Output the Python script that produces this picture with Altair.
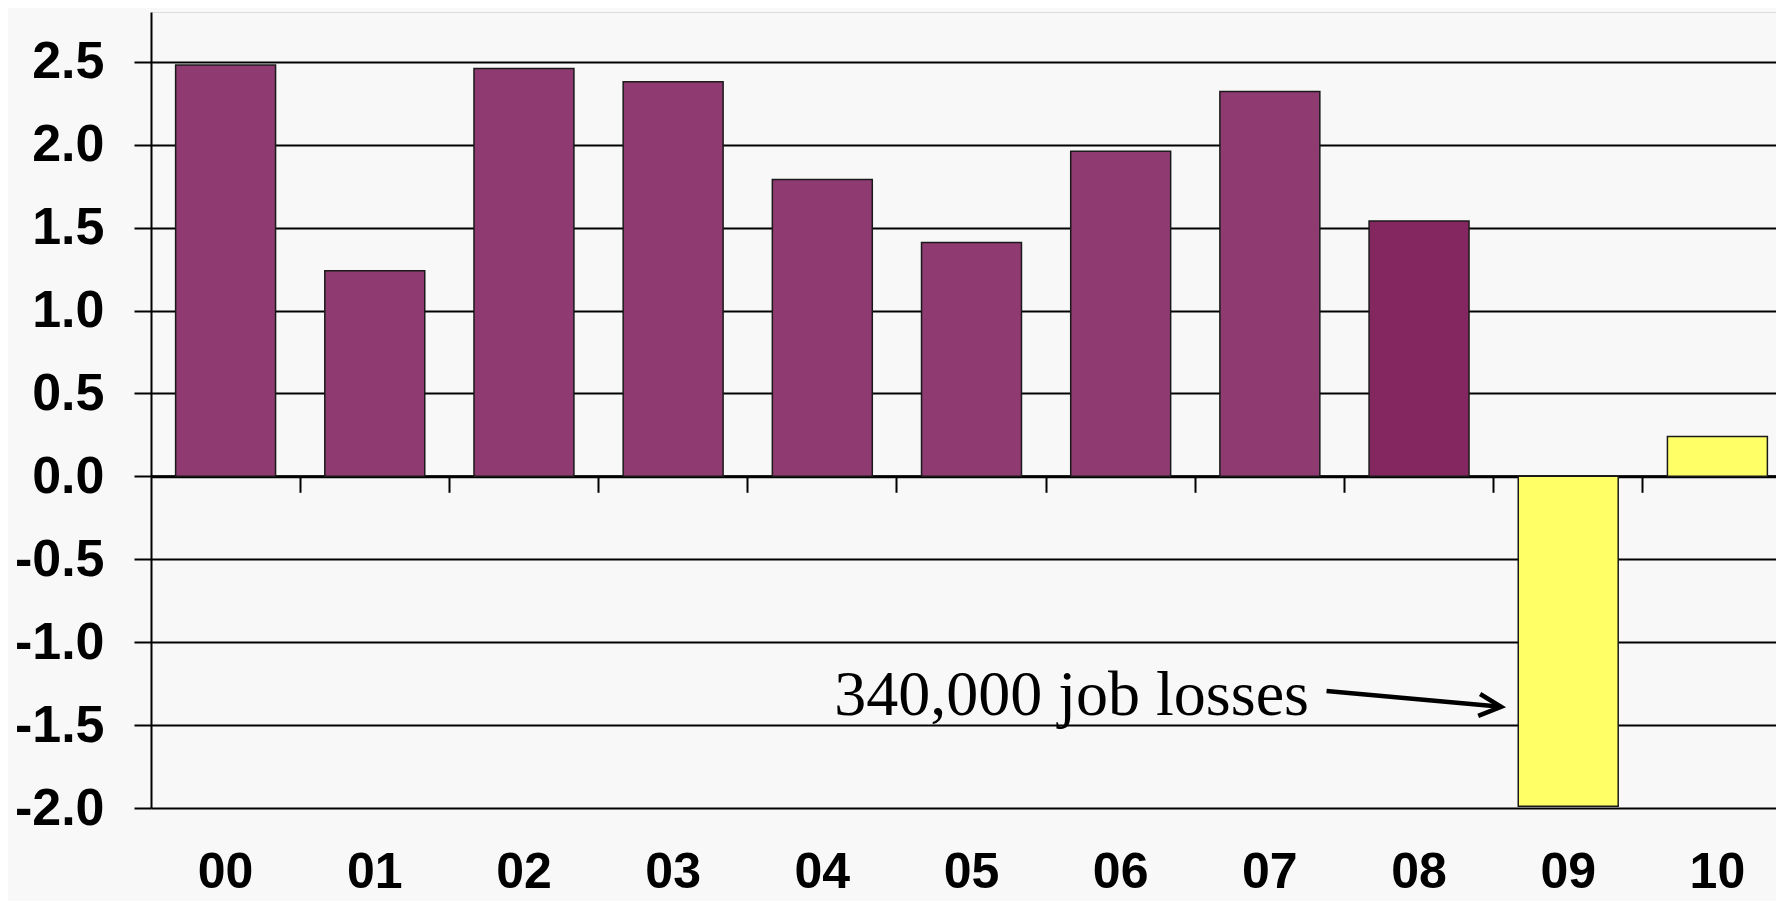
import altair as alt
import pandas as pd

# ---- data ----
years = ["00", "01", "02", "03", "04", "05", "06", "07", "08", "09", "10"]
values = [2.48, 1.24, 2.46, 2.38, 1.79, 1.41, 1.96, 2.32, 1.54, -1.99, 0.24]
status = ["actual"] * 8 + ["estimate", "forecast", "forecast"]

# annotation anchors (x in category-slot units, y in data units)
note_text = ["340,000 job losses"]
note_x = [4.58]
note_y = [-1.44]
arrow_x = [7.88, 9.05]
arrow_y = [-1.294, -1.39]

bars_df = pd.DataFrame({"year": years, "value": values, "status": status})
note_df = pd.DataFrame({"xa": note_x, "ya": note_y, "label": note_text})
arrow_df = pd.DataFrame({"xa": arrow_x, "ya": arrow_y})
head_df = pd.DataFrame({"xa": arrow_x[-1:], "ya": arrow_y[-1:]})

RANGE = [0, 1641]
P_INNER = 0.33
yscale = alt.Scale(domain=[-2.0, 2.8], nice=False, zero=False)

bars = alt.Chart(bars_df).mark_bar(stroke="#1a1a1a", strokeWidth=1.5).encode(
    x=alt.X(
        "year:N",
        sort=years,
        scale=alt.Scale(range=RANGE, paddingInner=P_INNER, paddingOuter=P_INNER / 2),
        axis=alt.Axis(
            title=None,
            orient="bottom",
            offset=-331.7,
            domain=True,
            domainColor="black",
            domainWidth=3,
            ticks=True,
            bandPosition=1 + (P_INNER / 2) / (1 - P_INNER),
            tickExtra=False,
            tickSize=16,
            tickWidth=2,
            tickColor="black",
            labelPadding=355,
            labelAngle=0,
            labelFont="Liberation Sans",
            labelFontWeight="bold",
            labelFontSize=50,
            labelColor="black",
            grid=False,
        ),
    ),
    y=alt.Y(
        "value:Q",
        scale=yscale,
        axis=alt.Axis(
            title=None,
            values=[-2.0, -1.5, -1.0, -0.5, 0.0, 0.5, 1.0, 1.5, 2.0, 2.5],
            labelExpr="datum.value < 0 ? '-' + format(-datum.value, '.1f') : format(datum.value, '.1f')",
            grid=True,
            gridColor="black",
            gridWidth=2,
            gridOpacity=1,
            domain=True,
            domainColor="black",
            domainWidth=2,
            ticks=True,
            tickSize=17,
            tickWidth=2,
            tickColor="black",
            labelPadding=30,
            labelFont="Liberation Sans",
            labelFontWeight="bold",
            labelFontSize=52,
            labelColor="black",
        ),
    ),
    color=alt.Color(
        "status:N",
        scale=alt.Scale(
            domain=["actual", "estimate", "forecast"],
            range=["#8F3A71", "#84265F", "#FFFF66"],
        ),
        legend=None,
    ),
)

xa = alt.X("xa:Q", scale=alt.Scale(domain=[0, 11], range=RANGE, nice=False, zero=False), axis=None)
ya = alt.Y("ya:Q", scale=yscale)

note = alt.Chart(note_df).mark_text(
    align="left",
    baseline="alphabetic",
    font="Liberation Serif",
    fontSize=64,
    color="black",
).encode(x=xa, y=ya, text="label:N")

arrow = alt.Chart(arrow_df).mark_line(color="black", strokeWidth=4.5).encode(x=xa, y=ya)

head = alt.Chart(head_df).mark_point(
    shape="M -1 -0.5 L 0 0 L -1 0.5",
    filled=False,
    stroke="black",
    strokeWidth=4.5,
    strokeJoin="miter",
    size=1936,
    angle=5,
    opacity=1,
).encode(x=xa, y=ya)

annot = alt.layer(note, arrow, head)

chart = (
    alt.layer(bars, annot)
    .resolve_scale(x="independent")
    .properties(
        width=1625,
        height=796,
        autosize=alt.AutoSizeParams(type="none"),
        padding={"left": 143, "top": 4, "right": 0, "bottom": 93},
        background="#F8F8F8",
    )
    .configure_view(stroke=None)
    .configure(font="Liberation Sans")
)

chart.save("out.html", embed_options={"renderer": "svg", "actions": False})
